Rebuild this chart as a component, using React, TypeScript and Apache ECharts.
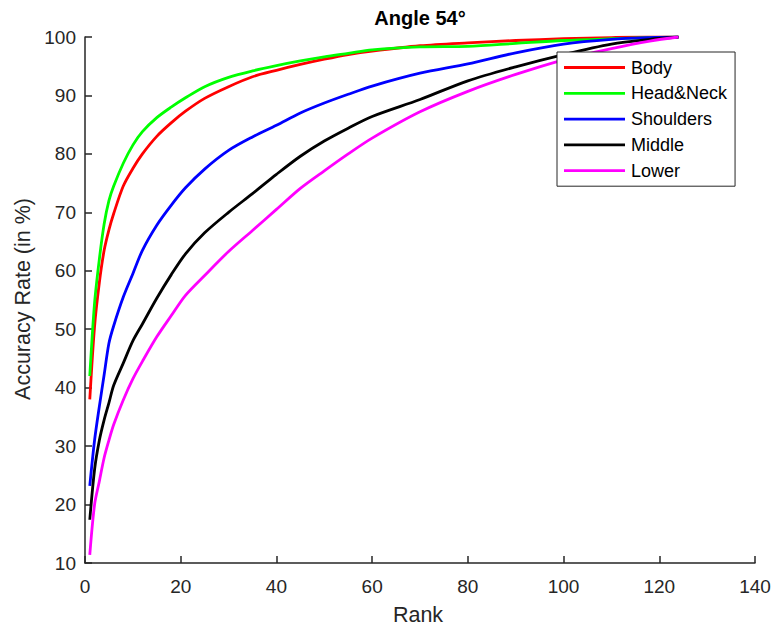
import React, { useEffect, useRef } from "react";
import * as echarts from "echarts";

const ranks = [1, 2, 3, 4, 5, 6, 8, 10, 12, 15, 18, 21, 25, 30, 35, 40, 45, 50, 55, 60, 70, 80, 90, 100, 110, 118, 124];
const body = [38, 50.5, 58, 63.5, 67, 69.8, 74.5, 77.5, 80, 83, 85.3, 87.3, 89.5, 91.5, 93.2, 94.3, 95.3, 96.2, 97, 97.6, 98.5, 99.0, 99.4, 99.7, 99.9, 100, 100];
const headNeck = [42, 54.5, 62, 68, 72, 74.5, 78.4, 81.5, 83.8, 86.2, 88, 89.6, 91.5, 93.1, 94.2, 95.1, 95.9, 96.6, 97.2, 97.8, 98.3, 98.4, 98.9, 99.4, 99.7, 99.9, 100];
const shoulders = [23.2, 31, 36.8, 42.2, 47.6, 50.6, 55.5, 59.5, 63.5, 67.8, 71.2, 74.2, 77.4, 80.6, 82.9, 84.9, 87, 88.7, 90.2, 91.6, 93.8, 95.4, 97.3, 98.8, 99.6, 99.9, 100];
const middle = [17.4, 26, 31, 34.5, 37.4, 40.4, 44.2, 48, 50.9, 55.3, 59.3, 62.9, 66.5, 70.0, 73.2, 76.5, 79.6, 82.2, 84.4, 86.4, 89.3, 92.5, 94.9, 97, 98.8, 99.6, 100];
const lower = [11.4, 20, 24, 28, 31, 33.7, 37.9, 41.5, 44.5, 48.7, 52.3, 55.8, 59.2, 63.3, 66.9, 70.5, 74.1, 77.1, 80, 82.7, 87.2, 90.7, 93.6, 96.1, 98, 99.3, 100];

const seriesNames = ["Body", "Head&Neck", "Shoulders", "Middle", "Lower"];
const seriesValues = [body, headNeck, shoulders, middle, lower];
const seriesColors = ["#ff0000", "#00ff00", "#0000ff", "#000000", "#ff00ff"];

const xTicks = { min: 0, max: 140, interval: 20 };
const yTicks = { min: 10, max: 100, interval: 10 };

const FONT = "'Liberation Sans', Arial, Helvetica, sans-serif";
const AXIS_COLOR = "#262626";

export default function App() {
  const ref = useRef<HTMLDivElement>(null);

  useEffect(() => {
    if (!ref.current) return;
    const chart = echarts.init(ref.current, null, { renderer: "svg" });
    const option: any = {
      animation: false,
      backgroundColor: "#ffffff",
      textStyle: { fontFamily: FONT },
      grid: { left: 85, top: 37, right: 19, bottom: 67, containLabel: false },
      xAxis: {
        type: "value",
        min: xTicks.min,
        max: xTicks.max,
        interval: xTicks.interval,
        axisLine: { show: true, lineStyle: { color: AXIS_COLOR, width: 1.5 } },
        axisTick: { show: true, inside: true, length: 7, lineStyle: { color: AXIS_COLOR, width: 1.5 } },
        axisLabel: { color: AXIS_COLOR, fontSize: 19, margin: 14, fontFamily: FONT },
        splitLine: { show: false },
      },
      yAxis: {
        type: "value",
        min: yTicks.min,
        max: yTicks.max,
        interval: yTicks.interval,
        axisLine: { show: true, lineStyle: { color: AXIS_COLOR, width: 1.5 } },
        axisTick: { show: true, inside: true, length: 7, lineStyle: { color: AXIS_COLOR, width: 1.5 } },
        axisLabel: { color: AXIS_COLOR, fontSize: 19, margin: 9, fontFamily: FONT },
        splitLine: { show: false },
      },
      legend: {
        orient: "vertical",
        left: 557,
        top: 52,
        icon: "path://M0 0 H61 V2.8 H0 Z",
        itemWidth: 61,
        itemHeight: 14,
        itemGap: 7.8,
        padding: [6.5, 8, 6.5, 7],
        backgroundColor: "#ffffff",
        borderColor: "#262626",
        borderWidth: 1,
        borderRadius: 0,
        textStyle: { color: "#000000", fontSize: 18, fontFamily: FONT, padding: [0, 0, 0, 1] },
        data: seriesNames,
      },
      graphic: [
        {
          type: "text",
          x: 420,
          y: 18,
          style: {
            text: "Angle 54°",
            font: `bold 20px ${FONT}`,
            fill: "#000000",
            textAlign: "center",
            textVerticalAlign: "middle",
          },
        },
        {
          type: "text",
          x: 418,
          y: 615,
          style: {
            text: "Rank",
            font: `21.5px ${FONT}`,
            fill: AXIS_COLOR,
            textAlign: "center",
            textVerticalAlign: "middle",
          },
        },
        {
          type: "text",
          x: 23,
          y: 299,
          rotation: Math.PI / 2,
          style: {
            text: "Accuracy Rate (in %)",
            font: `21.5px ${FONT}`,
            fill: AXIS_COLOR,
            textAlign: "center",
            textVerticalAlign: "middle",
          },
        },
      ],
      series: seriesNames.map((name, i) => ({
        name,
        type: "line",
        data: ranks.map((r, j) => [r, seriesValues[i][j]]),
        symbol: "none",
        smooth: 0.3,
        lineStyle: { color: seriesColors[i], width: 2.8 },
        itemStyle: { color: seriesColors[i] },
      })),
    };
    chart.setOption(option);
    return () => chart.dispose();
  }, []);

  return (
    <div
      ref={ref}
      style={{ position: "fixed", left: 0, top: 0, width: 774, height: 630, background: "#fff" }}
    />
  );
}
